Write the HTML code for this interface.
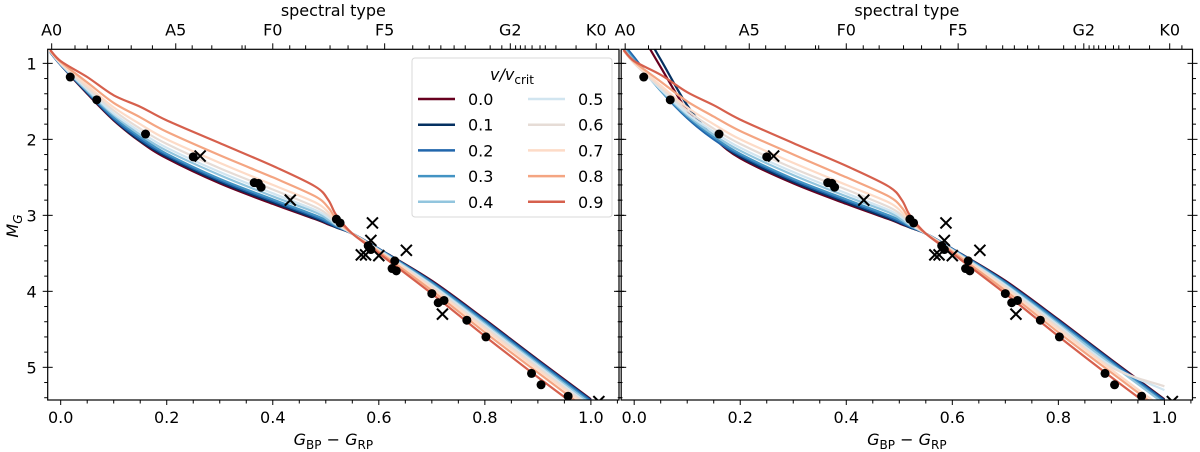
<!DOCTYPE html>
<html><head><meta charset="utf-8"><style>
html,body{margin:0;padding:0;background:#fff;}
svg{display:block;font-family:"DejaVu Sans","Liberation Sans",sans-serif;}
</style></head><body>
<svg id="chart" width="1200" height="452" viewBox="0 0 1200 452" xmlns="http://www.w3.org/2000/svg"></svg>
<script>
// ---- data ----
const colorGrid = [-0.02,0.0,0.05,0.1,0.15,0.2,0.3,0.4,0.48,0.505,0.52,0.55,0.6,0.7,0.8,0.9,1.0];
const rotationRates = ['0.0','0.1','0.2','0.3','0.4','0.5','0.6','0.7','0.8','0.9'];
const seriesColors = ['#67001f','#053061','#2166ac','#4393c3','#92c5de','#d1e5f0','#e6dcd6','#fddbc7','#f4a582','#d6604d'];
const leftV00 = [0.85,1.02,1.40,1.75,2.03,2.25,2.58,2.85,3.05,3.12,3.16,3.24,3.44,3.86,4.37,4.90,5.42];
const leftV01 = [0.85,1.02,1.39,1.74,2.02,2.23,2.56,2.83,3.04,3.11,3.16,3.24,3.44,3.87,4.38,4.91,5.43];
const leftV02 = [0.85,1.02,1.38,1.73,2.00,2.21,2.54,2.81,3.02,3.10,3.15,3.24,3.44,3.88,4.39,4.92,5.44];
const leftV03 = [0.85,1.01,1.37,1.71,1.97,2.19,2.52,2.79,3.00,3.08,3.14,3.24,3.45,3.89,4.41,4.94,5.46];
const leftV04 = [0.84,1.01,1.36,1.68,1.94,2.15,2.47,2.75,2.96,3.06,3.13,3.24,3.45,3.91,4.43,4.96,5.48];
const leftV05 = [0.84,1.01,1.34,1.66,1.90,2.11,2.43,2.71,2.93,3.03,3.12,3.24,3.46,3.92,4.45,4.98,5.51];
const leftV06 = [0.84,1.00,1.32,1.62,1.86,2.06,2.38,2.66,2.89,3.00,3.10,3.24,3.46,3.94,4.47,5.00,5.53];
const leftV07 = [0.83,0.99,1.29,1.58,1.80,2.00,2.31,2.60,2.83,2.96,3.08,3.24,3.47,3.96,4.50,5.03,5.55];
const leftV08 = [0.83,0.98,1.25,1.52,1.71,1.90,2.21,2.50,2.75,2.90,3.05,3.24,3.48,3.99,4.54,5.07,5.59];
const leftV09 = [0.82,0.97,1.18,1.42,1.57,1.75,2.05,2.35,2.62,2.80,3.00,3.24,3.50,4.03,4.59,5.13,5.65];
const rightV00 = [0.2,0.45,1.05,1.62,1.98,2.25,2.58,2.85,3.05,3.12,3.16,3.24,3.44,3.86,4.37,4.90,5.42];
const rightV01 = [0.2,0.35,0.95,1.55,1.97,2.23,2.56,2.83,3.04,3.11,3.16,3.24,3.44,3.87,4.38,4.91,5.43];
const rightV02 = [0.75,0.92,1.36,1.72,2.00,2.21,2.54,2.81,3.02,3.10,3.15,3.24,3.44,3.88,4.39,4.92,5.44];
const rightV03 = [0.78,0.95,1.36,1.70,1.97,2.19,2.52,2.79,3.00,3.08,3.14,3.24,3.45,3.89,4.41,4.94,5.46];
const rightV04 = [0.80,0.97,1.35,1.68,1.94,2.15,2.47,2.75,2.96,3.06,3.13,3.24,3.45,3.91,4.43,4.96,5.48];
const rightV05 = [0.82,0.99,1.34,1.66,1.90,2.11,2.43,2.71,2.93,3.03,3.12,3.24,3.46,3.92,4.45,4.98,5.30];
const rightV06 = [0.83,1.00,1.32,1.62,1.86,2.06,2.38,2.66,2.89,3.00,3.10,3.24,3.46,3.94,4.47,5.00,5.25];
const rightV07 = [0.83,0.99,1.29,1.58,1.80,2.00,2.31,2.60,2.83,2.96,3.08,3.24,3.47,3.96,4.50,5.03,5.55];
const rightV08 = [0.83,0.98,1.24,1.50,1.70,1.89,2.20,2.50,2.75,2.90,3.05,3.24,3.48,3.99,4.54,5.07,5.59];
const rightV09 = [0.82,0.97,1.15,1.38,1.55,1.74,2.05,2.35,2.62,2.80,3.00,3.24,3.50,4.03,4.59,5.13,5.65];
const starColorsDot = [0.018,0.068,0.16,0.25,0.365,0.373,0.378,0.52,0.527,0.58,0.585,0.63,0.625,0.633,0.7,0.712,0.723,0.766,0.802,0.888,0.906,0.957];
const starMagDot    = [1.18,1.48,1.93,2.23,2.57,2.58,2.63,3.05,3.10,3.40,3.45,3.60,3.70,3.73,4.03,4.15,4.12,4.38,4.60,5.08,5.23,5.38];
const starColorsCross = [0.263,0.433,0.588,0.585,0.575,0.567,0.600,0.652,0.720,1.015];
const starMagCross    = [2.22,2.80,3.10,3.33,3.52,3.52,3.53,3.46,4.30,5.45];
const xTickLabels = ['0.0','0.2','0.4','0.6','0.8','1.0'];
const yTickLabels = ['1','2','3','4','5'];
const spectralLabels = ['A0','A5','F0','F5','G2','K0'];
const spectralMajorColors = [-0.017,0.217,0.400,0.611,0.848,1.010];
const spectralMinorColors = [0.027,0.050,0.090,0.133,0.173,0.248,0.285,0.342,0.348,0.432,0.462,0.508,0.542,0.578,0.664,0.695,0.717,0.742,0.763,0.810,0.832,0.858,0.867,0.876,0.889,0.904,0.914,0.934,0.972,1.033];

const leftSeries = [leftV00,leftV01,leftV02,leftV03,leftV04,leftV05,leftV06,leftV07,leftV08,leftV09];
const rightSeries = [rightV00,rightV01,rightV02,rightV03,rightV04,rightV05,rightV06,rightV07,rightV08,rightV09];

const NS='http://www.w3.org/2000/svg';
const svg=document.getElementById('chart');
function mk(tag,attrs,parent){const e=document.createElementNS(NS,tag);for(const k in attrs)e.setAttribute(k,attrs[k]);(parent||svg).appendChild(e);return e;}
function smooth(pts){
  let d='M'+pts[0][0].toFixed(1)+','+pts[0][1].toFixed(1);
  for(let i=0;i<pts.length-1;i++){
    const p0=pts[Math.max(0,i-1)],p1=pts[i],p2=pts[i+1],p3=pts[Math.min(pts.length-1,i+2)];
    const t=0.16;
    const c1=[p1[0]+(p2[0]-p0[0])*t,p1[1]+(p2[1]-p0[1])*t];
    const c2=[p2[0]-(p3[0]-p1[0])*t,p2[1]-(p3[1]-p1[1])*t];
    d+='C'+c1.map(v=>v.toFixed(1)).join(',')+' '+c2.map(v=>v.toFixed(1)).join(',')+' '+p2[0].toFixed(1)+','+p2[1].toFixed(1);
  }
  return d;
}

const X0=-0.0245, X1=1.053, Y0=0.815, Y1=5.43, TOP=49.3, BOT=400, W=571.3;
const FS=16;
function panel(idx, series){
  const L = 47.7 + idx*573.5, R = L+W;
  const sx = v => L + (v-X0)/(X1-X0)*W;
  const sy = m => TOP + (m-Y0)/(Y1-Y0)*(BOT-TOP);
  const g = mk('g',{});
  
  
  const cid='clip'+idx;
  const cp=mk('clipPath',{id:cid},g); mk('rect',{x:L,y:TOP,width:W,height:BOT-TOP},cp);
  const lines=mk('g',{'clip-path':'url(#'+cid+')'},g);
  series.forEach((ys,i)=>{
    const pts=ys.map((m,j)=>[sx(colorGrid[j]),sy(m)]);
    const p=mk('path',{d:smooth(pts),fill:'none',stroke:seriesColors[i],'stroke-width':2.2,'stroke-linejoin':'round'},lines);
    
    
  });
  starColorsDot.forEach((c,i)=>{
    const e=mk('circle',{cx:sx(c),cy:sy(starMagDot[i]),r:4.5,fill:'#000'},lines);
    
    
  });
  starColorsCross.forEach((c,i)=>{
    const x=sx(c),y=sy(starMagCross[i]),s=5.5;
    const e=mk('path',{d:`M${x-s},${y-s}L${x+s},${y+s}M${x-s},${y+s}L${x+s},${y-s}`,stroke:'#000','stroke-width':2,fill:'none'},lines);
    
    
  });
  mk('rect',{x:L,y:TOP,width:W,height:BOT-TOP,fill:'none',stroke:'#000','stroke-width':1.2},g);
  for(let k=0;k<=21;k++){const v=k*0.05; if(v>X1)break; const x=sx(v);const maj=k%4===0;
    mk('line',{x1:x,y1:BOT,x2:x,y2:BOT+(maj?5:3.5),stroke:'#000','stroke-width':1},g);}
  xTickLabels.forEach((t,i)=>{const e=mk('text',{x:sx(i*0.2),y:BOT+23,'text-anchor':'middle','font-size':FS},g);e.textContent=t;
    });
  for(let k=0;k<=25;k++){const mm=Math.round((0.8+k*0.2)*10)/10; if(mm<Y0||mm>Y1)continue;const y=sy(mm);const maj=Math.abs(mm-Math.round(mm))<1e-6;
    const l=maj?5:3.5;
    mk('line',{x1:L-l,y1:y,x2:L+(maj?5:0),y2:y,stroke:'#000','stroke-width':1},g);
    mk('line',{x1:R-(maj?5:0),y1:y,x2:R+l,y2:y,stroke:'#000','stroke-width':1},g);}
  if(idx===0){yTickLabels.forEach((t,i)=>{const e=mk('text',{x:L-11,y:sy(i+1)+6,'text-anchor':'end','font-size':FS},g);e.textContent=t;
    });}
  spectralMajorColors.forEach((c,i)=>{const x=sx(c);mk('line',{x1:x,y1:TOP,x2:x,y2:TOP-6,stroke:'#000','stroke-width':1},g);
    const e=mk('text',{x:x,y:TOP-14,'text-anchor':'middle','font-size':FS},g);e.textContent=spectralLabels[i];
    });
  spectralMinorColors.forEach(c=>{if(c>X1)return;const x=sx(c);mk('line',{x1:x,y1:TOP,x2:x,y2:TOP-4,stroke:'#000','stroke-width':1},g);});
  const st=mk('text',{x:L+W/2,y:16,'text-anchor':'middle','font-size':FS},g);st.textContent='spectral type';
  
  const xt=mk('text',{x:L+W/2,y:445,'text-anchor':'middle','font-size':FS,'font-style':'italic'},g);
  xt.innerHTML='G<tspan font-size="12" font-style="normal" dy="4">BP</tspan><tspan dy="-4" font-style="normal"> − </tspan>G<tspan font-size="12" font-style="normal" dy="4">RP</tspan>';
  
}
panel(0,leftSeries);
panel(1,rightSeries);
const yt=mk('text',{x:0,y:0,'text-anchor':'middle','font-size':FS,'font-style':'italic',transform:'translate(18,226) rotate(-90)'});
yt.innerHTML='M<tspan font-size="12" dy="4">G</tspan>';

const lg=mk('g',{});

mk('rect',{x:412,y:58,width:200,height:159,rx:3,fill:'#fff','fill-opacity':0.85,stroke:'#d8d8d8'},lg);
const ltt=mk('text',{x:512,y:80,'text-anchor':'middle','font-size':FS,'font-style':'italic'},lg);
ltt.innerHTML='v/v<tspan font-size="12" font-style="normal" dy="4">crit</tspan>';
rotationRates.forEach((r,i)=>{const col=Math.floor(i/5),row=i%5;const x=418+col*110,y=99+row*25.7;
  const en=mk('g',{},lg);
  
  mk('line',{x1:x,y1:y,x2:x+37,y2:y,stroke:seriesColors[i],'stroke-width':2.5},en);
  const t=mk('text',{x:x+50,y:y+6,'font-size':FS},en);t.textContent=r;});
</script>
</body></html>
